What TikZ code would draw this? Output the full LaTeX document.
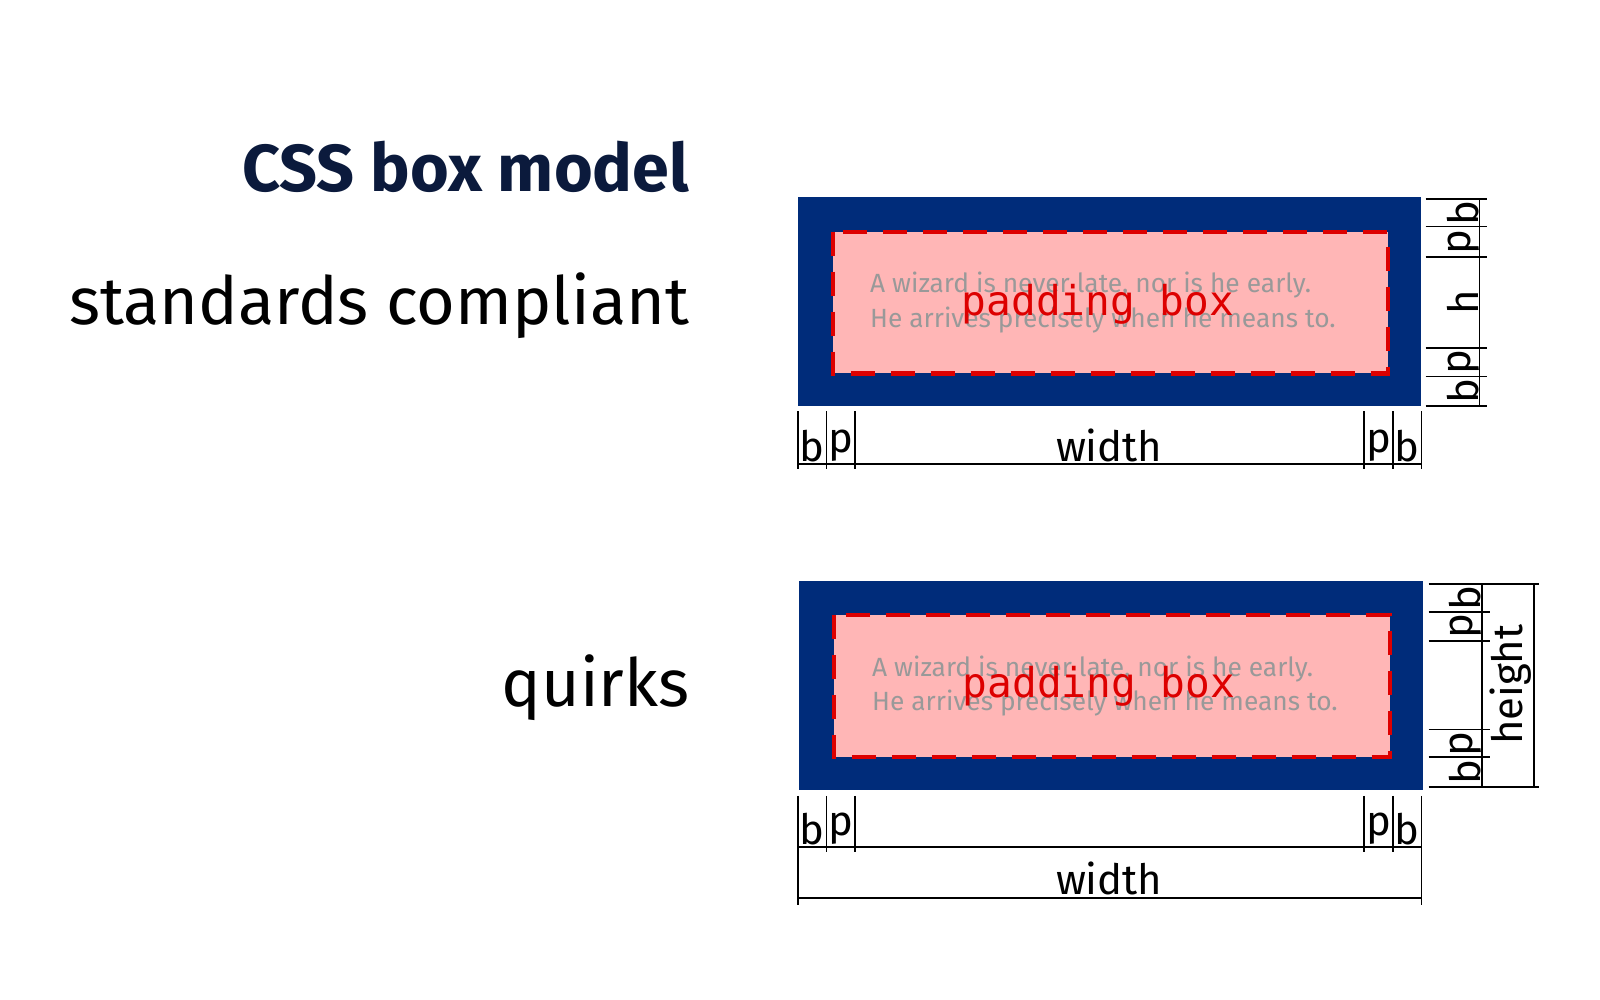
\documentclass[tikz,border=0pt]{standalone}
\usepackage{fontspec}
\setmainfont{Fira Sans}
\newfontfamily\boxmono{DejaVu Sans Mono}
\usetikzlibrary{positioning}
\definecolor{navy}{HTML}{002C7A}
\definecolor{titleblue}{HTML}{0B1A3C}
\definecolor{padpink}{HTML}{FFB6B6}
\definecolor{padred}{HTML}{DD0000}
\tikzset{
  border/.style={fill=navy},
  padbox/.style={fill=padpink,draw=padred,line width=1.2pt,dash pattern=on 2.4mm off 1.6mm},
  dim/.style={line width=0.5pt},
  dimlabel/.style={font=\fontsize{11.9}{12}\selectfont,inner sep=0pt},
  quote/.style={font=\fontsize{7.5}{9.8}\selectfont,text=black!40,align=left,inner sep=0pt},
  heading/.style={font=\fontsize{18.9}{20}\selectfont,anchor=base east,inner sep=0pt}
}
\begin{document}
\begin{tikzpicture}[x=0.010204cm,y=-0.010204cm]
    % Headings
    \node[heading,font=\fontsize{18.9}{20}\selectfont\bfseries,text=titleblue] (title) at (676,188) {CSS box model};
    \node[heading] (std) at (676,318) {standards compliant};
    \node[heading] (quirks) at (676,692) {quirks};

    % Standards compliant box
    \fill[border] (782,193) rectangle (1393,398);
    \draw[padbox] (816,227) rectangle (1360,366);
    \node[quote,anchor=north west] (quote1) at (852,266) {A wizard is never late, nor is he early.\\He arrives precisely when he means to.};
    \node[font=\boxmono\fontsize{11.7}{12}\selectfont,text=padred] (pad1) at (1076,298) {padding box};

    % Standards: widths
    \foreach \x in {782,810,838,1337,1365,1393}
        \draw[dim] (\x,403) -- (\x,460);
    \draw[dim] (782,455) -- (1393,455);
    \node[dimlabel] (sb1) at (796,437) {b};
    \node[dimlabel] (sp1) at (824,437) {p};
    \node[dimlabel] (sw) at (1087,437) {width};
    \node[dimlabel] (sp2) at (1351,437) {p};
    \node[dimlabel] (sb2) at (1379,437) {b};

    % Standards: heights
    \foreach \y in {195,222,252,341,369,398}
        \draw[dim] (1397,\y) -- (1457,\y);
    \draw[dim] (1450,195) -- (1450,398);
    \node[dimlabel,rotate=90] (sb3) at (1434,209) {b};
    \node[dimlabel,rotate=90] (sp3) at (1434,237) {p};
    \node[dimlabel,rotate=90] (sh) at (1434,296) {h};
    \node[dimlabel,rotate=90] (sp4) at (1434,355) {p};
    \node[dimlabel,rotate=90] (sb4) at (1434,383) {b};

    % Quirks box
    \fill[border] (783,569) rectangle (1395,774);
    \draw[padbox] (817,603) rectangle (1362,742);
    \node[quote,anchor=north west] (quote2) at (854,642) {A wizard is never late, nor is he early.\\He arrives precisely when he means to.};
    \node[font=\boxmono\fontsize{11.7}{12}\selectfont,text=padred] (pad2) at (1077,673) {padding box};

    % Quirks: widths
    \foreach \x in {810,838,1337,1365}
        \draw[dim] (\x,780) -- (\x,835);
    \draw[dim] (782,780) -- (782,887);
    \draw[dim] (1393,780) -- (1393,887);
    \draw[dim] (782,830) -- (1393,830);
    \draw[dim] (782,880) -- (1393,880);
    \node[dimlabel] (qb1) at (796,812) {b};
    \node[dimlabel] (qp1) at (824,812) {p};
    \node[dimlabel] (qp2) at (1351,812) {p};
    \node[dimlabel] (qb2) at (1379,812) {b};
    \node[dimlabel] (qw) at (1087,861) {width};

    % Quirks: heights
    \foreach \y in {600,628,715,742}
        \draw[dim] (1400,\y) -- (1460,\y);
    \draw[dim] (1400,572) -- (1508,572);
    \draw[dim] (1400,771) -- (1508,771);
    \draw[dim] (1452,572) -- (1452,771);
    \draw[dim] (1503,572) -- (1503,771);
    \node[dimlabel,rotate=90] (qb3) at (1436,586) {b};
    \node[dimlabel,rotate=90] (qp3) at (1436,614) {p};
    \node[dimlabel,rotate=90] (qp4) at (1436,729) {p};
    \node[dimlabel,rotate=90] (qb4) at (1436,757) {b};
    \node[dimlabel,rotate=90] (qh) at (1480,671) {height};

    \pgfresetboundingbox
    \useasboundingbox (0,0) rectangle (1568,980);
\end{tikzpicture}
\end{document}
